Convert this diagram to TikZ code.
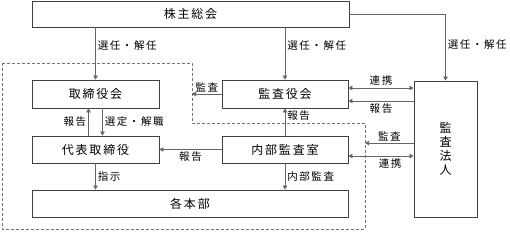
\documentclass[tikz,border=0pt]{standalone}
\usepackage{fontspec}
\newfontfamily\jpfont{Noto Sans CJK JP}[LetterSpace=15]
\newfontfamily\jpplain{Noto Sans CJK JP}
\usepackage{tikz}
\usetikzlibrary{arrows.meta}

\begin{document}
\begin{tikzpicture}[
  x=1pt, y=-1pt,
  box/.style={draw=black!75, line width=0.8pt, fill=white, inner sep=0pt, font=\jpfont\fontsize{12}{14}\selectfont},
  lbl/.style={font=\jpfont\fontsize{10.5}{12}\selectfont, inner sep=2pt},
  arr/.style={-{Triangle[length=4pt, width=4.5pt]}, draw=black!60, line width=0.7pt},
  dbl/.style={{Triangle[length=4pt, width=4.5pt]}-{Triangle[length=4pt, width=4.5pt]}, draw=black!60, line width=0.7pt},
  grp/.style={draw=black!55, line width=0.8pt, dash pattern=on 3pt off 2pt}
]
\useasboundingbox (0,0) rectangle (510,231);
\node[box, minimum width=317pt, minimum height=26pt] (gm) at (190.5,14) {株主総会};
\node[box, minimum width=127pt, minimum height=28pt] (bod) at (95.5,94) {取締役会};
\node[box, minimum width=126pt, minimum height=28pt] (asb) at (285,94) {監査役会};
\node[box, minimum width=127pt, minimum height=27pt] (rep) at (95.5,149.5) {代表取締役};
\node[box, minimum width=126pt, minimum height=27pt] (iad) at (285,149.5) {内部監査室};
\node[box, minimum width=316pt, minimum height=27pt] (div) at (190,203.5) {各本部};
\node[box, minimum width=63pt, minimum height=136pt, align=center, font=\jpplain\fontsize{12}{14}\selectfont] (acc) at (445.5,149) {監\\査\\法\\人};
% group outline
\coordinate (g1) at (2,63);
\coordinate (g2) at (192,63);
\coordinate (g3) at (192,123);
\coordinate (g4) at (365,123);
\coordinate (g5) at (365,229);
\coordinate (g6) at (2,229);
\draw[grp] (g1) -- (g2) -- (g3) -- (g4) -- (g5) -- (g6) -- cycle;
\draw[arr] (bod |- gm.south) -- (bod.north) node[lbl, right, pos=0.34] (l1) {選任・解任};
\draw[arr] (asb |- gm.south) -- (asb.north) node[lbl, right, pos=0.34] (l2) {選任・解任};
\draw[arr] (gm.east) -| (acc.north) node[lbl, right, pos=0.73] (l3) {選任・解任};
\draw[arr] (asb.west) -- (asb.west -| g2) node[lbl, above, midway] (l4) {監査};
\draw[dbl] ([yshift=6pt]asb.east) -- ([yshift=6pt]asb.east -| acc.west) node[lbl, above, midway] (l5) {連携};
\draw[arr] ([yshift=-7pt]asb.east -| acc.west) -- ([yshift=-7pt]asb.east) node[lbl, below, midway] (l6) {報告};
\draw[arr] (iad.north) -- (asb.south) node[lbl, right, pos=0.75] (l7) {報告};
\draw[arr] ([xshift=-7pt]rep.north) -- ([xshift=-7pt]bod.south) node[lbl, left, midway] (l8) {報告};
\draw[arr] ([xshift=7pt]bod.south) -- ([xshift=7pt]rep.north) node[lbl, right, midway] (l9) {選定・解職};
\draw[arr] (iad.west) -- (rep.east) node[lbl, below, midway] (l10) {報告};
\draw[arr] (rep.south) -- (rep.south |- div.north) node[lbl, right, midway] (l11) {指示};
\draw[arr] (iad.south) -- (iad.south |- div.north) node[lbl, right, midway] (l12) {内部監査};
\draw[arr] ([yshift=6.5pt]acc.west |- iad.east) -- ([yshift=6.5pt]g4 |- iad.east) node[lbl, above, midway] (l13) {監査};
\draw[dbl] ([yshift=-6.5pt]iad.east) -- ([yshift=-6.5pt]iad.east -| acc.west) node[lbl, below, pos=0.64] (l14) {連携};
\end{tikzpicture}
\end{document}
